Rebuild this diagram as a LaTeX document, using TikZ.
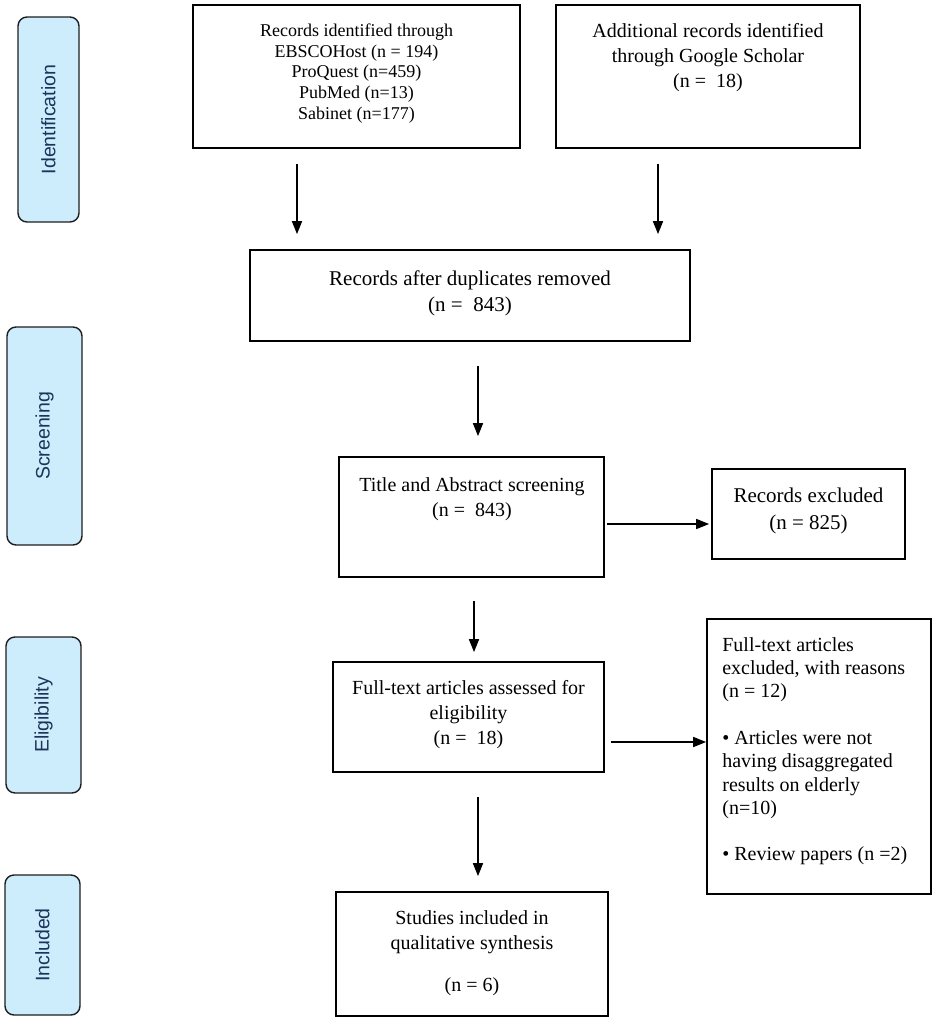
\documentclass[tikz,border=0pt]{standalone}
\usepackage{fontspec}
\setmainfont{Liberation Serif}
\setsansfont{Liberation Sans}
\usetikzlibrary{arrows.meta}
\definecolor{phasefill}{RGB}{205,236,252}
\definecolor{phasetext}{RGB}{28,52,90}
\definecolor{phaseline}{RGB}{30,30,30}
\begin{document}
\begin{tikzpicture}[x=1pt,y=-1pt,
  box/.style={draw, line width=1.7pt, inner sep=0pt, rectangle},
  phasebox/.style={draw=phaseline, line width=1.4pt, fill=phasefill, rounded corners=9pt,
    inner sep=0pt, rotate=90, text=phasetext, font=\sffamily\fontsize{19.5}{22}\selectfont},
  txt/.style={align=center, inner sep=0pt},
  fa/.style={font=\fontsize{18}{20.7}\selectfont},
  fb/.style={font=\fontsize{20}{25}\selectfont},
  fc/.style={font=\fontsize{21}{26}\selectfont},
  arr/.style={line width=1.5pt, -{Triangle[length=13pt,width=10pt]}}]
\fill[white] (0,0) rectangle (935,1021);
\useasboundingbox (0,0) rectangle (935,1021);

% phase boxes
\node[phasebox, minimum width=205, minimum height=61] (ident) at (48.5,119.5) {Identification};
\node[phasebox, minimum width=218, minimum height=75] (screen) at (44.5,436) {Screening};
\node[phasebox, minimum width=156, minimum height=75] (elig) at (43.5,715) {Eligibility};
\node[phasebox, minimum width=140, minimum height=75] (incl) at (42.5,945) {Included};

% boxes
\node[box, minimum width=327, minimum height=143] (A) at (356.5,76.5) {};
\node[box, minimum width=304, minimum height=143] (B) at (708,76.5) {};
\node[box, minimum width=440, minimum height=91] (C) at (470,295.5) {};
\node[box, minimum width=265, minimum height=120] (D) at (471.5,517) {};
\node[box, minimum width=193, minimum height=90] (E) at (808.5,514) {};
\node[box, minimum width=271, minimum height=110] (F) at (468.5,717) {};
\node[box, minimum width=224, minimum height=275] (G) at (819,756.5) {};
\node[box, minimum width=272, minimum height=124] (H) at (472,954) {};

% texts
\node[txt, fa] (Atxt) at (356.5,73.5) {Records identified through\\EBSCOHost (n = 194)\\ProQuest (n=459)\\PubMed (n=13)\\Sabinet (n=177)};
\node[txt, fb] (Btxt) at (708,57.5) {Additional records identified\\through Google Scholar\\(n = \ 18)};
\node[txt, fc] (Ctxt) at (470,293) {Records after duplicates removed\\(n = \ 843)};
\node[txt, fb] (Dtxt) at (472,499.5) {Title and Abstract screening\\(n = \ 843)};
\node[txt, font=\fontsize{21}{27.5}\selectfont] (Etxt) at (808.5,511) {Records excluded\\(n = 825)};
\node[txt, fb] (Ftxt) at (468.5,715) {Full-text articles assessed for\\eligibility\\(n = \ 18)};
\node[inner sep=0pt, align=left, anchor=north west, font=\fontsize{20}{23.3}\selectfont] (Gtxt)
  at ([xshift=16pt,yshift=-19pt]G.north west)
  {Full-text articles\\excluded, with reasons\\(n = 12)\\[23.3pt]\textbullet{} Articles were not\\having disaggregated\\results on elderly\\(n=10)\\[23.3pt]\textbullet{} Review papers (n =2)};
\node[txt, fb] (Htxt) at (472,953.5) {Studies included in\\qualitative synthesis\\[17pt](n = 6)};

% arrow columns
\coordinate (x1) at (297,0);
\coordinate (x2) at (658,0);
\coordinate (x3) at (478,0);
\coordinate (x4) at (474,0);
\coordinate (y1) at (0,524);
\coordinate (y2) at (0,742);

\draw[arr, shorten <=15pt, shorten >=15pt] (A.south -| x1) -- (C.north -| x1);
\draw[arr, shorten <=15pt, shorten >=15pt] (B.south -| x2) -- (C.north -| x2);
\draw[arr, shorten <=24pt, shorten >=20pt] (C.south -| x3) -- (D.north -| x3);
\draw[arr, shorten <=23pt, shorten >=9pt] (D.south -| x4) -- (F.north -| x4);
\draw[arr, shorten <=24pt, shorten >=15pt] (F.south -| x3) -- (H.north -| x3);
\draw[arr, shorten <=2pt, shorten >=2pt] (D.east |- y1) -- (E.west |- y1);
\draw[arr, shorten <=6pt, shorten >=0pt] (F.east |- y2) -- (G.west |- y2);
\end{tikzpicture}
\end{document}
